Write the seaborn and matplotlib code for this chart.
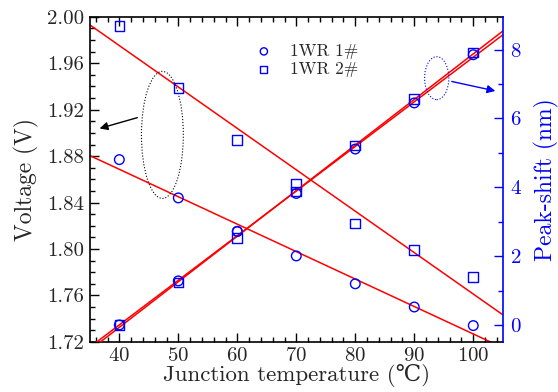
import numpy as np
import pandas as pd
import seaborn as sns
import matplotlib.pyplot as plt
from matplotlib.patches import Ellipse
from matplotlib.ticker import MultipleLocator, FormatStrFormatter

# measured data
temps = [40, 50, 60, 70, 80, 90, 100]
voltage_1 = [1.877, 1.844, 1.815, 1.794, 1.770, 1.750, 1.734]
voltage_2 = [1.992, 1.9385, 1.894, 1.856, 1.822, 1.799, 1.776]
shift_1 = [0.0, 1.28, 2.72, 3.82, 5.11, 6.45, 7.85]
shift_2 = [0.0, 1.23, 2.53, 3.88, 5.21, 6.56, 7.91]
labels = ['1WR 1#', '1WR 2#']

df = pd.DataFrame({'T': temps, 'V1': voltage_1, 'V2': voltage_2,
                   'S1': shift_1, 'S2': shift_2})

sns.set_theme(style='ticks')
plt.rcParams['font.family'] = ['cmr10', 'DejaVu Serif', 'DejaVu Sans']
plt.rcParams['mathtext.fontset'] = 'cm'
plt.rcParams['axes.formatter.use_mathtext'] = True

fig = plt.figure(figsize=(5.58, 3.92), dpi=100)
ax = fig.add_axes([0.161, 0.128, 0.740, 0.829])
ax2 = ax.twinx()

blue = '#0000ff'
line_kws = dict(color='red', lw=1.1)
mk = dict(facecolors='none', linewidth=1.0, s=48, zorder=5)

ax.set_xlim(35, 105)
ax2.set_xlim(35, 105)

# voltage fits and points
sns.regplot(data=df, x='T', y='V1', ax=ax, scatter=False, ci=None,
            truncate=False, line_kws=line_kws)
sns.regplot(data=df, x='T', y='V2', ax=ax, scatter=False, ci=None,
            truncate=False, line_kws=line_kws)
sns.scatterplot(data=df, x='T', y='V1', ax=ax, marker='o', edgecolor=blue,
                label=labels[0], **mk)
sns.scatterplot(data=df, x='T', y='V2', ax=ax, marker='s', edgecolor=blue,
                label=labels[1], **mk)

# peak-shift fits and points
sns.regplot(data=df, x='T', y='S1', ax=ax2, scatter=False, ci=None,
            truncate=False, line_kws=line_kws)
sns.regplot(data=df, x='T', y='S2', ax=ax2, scatter=False, ci=None,
            truncate=False, line_kws=line_kws)
sns.scatterplot(data=df, x='T', y='S1', ax=ax2, marker='o', edgecolor=blue, **mk)
sns.scatterplot(data=df, x='T', y='S2', ax=ax2, marker='s', edgecolor=blue, **mk)
ax.set_xlim(35, 105)
ax2.set_xlim(35, 105)
ax.set_ylim(1.72, 2.00)
ax2.set_ylim(-0.49, 8.95)

# ticks
ax.xaxis.set_major_locator(MultipleLocator(10))
ax.xaxis.set_minor_locator(MultipleLocator(2))
ax.yaxis.set_major_locator(MultipleLocator(0.04))
ax.yaxis.set_minor_locator(MultipleLocator(0.01))
ax.yaxis.set_major_formatter(FormatStrFormatter('%.2f'))
ax2.yaxis.set_major_locator(MultipleLocator(2))
ax2.yaxis.set_minor_locator(MultipleLocator(1))

ax.tick_params(which='both', direction='in', top=True, right=False,
               labelsize=15, color='black', width=1.0, pad=4)
ax.tick_params(which='major', length=6.5)
ax.tick_params(which='minor', length=3.5)
ax2.tick_params(which='both', direction='in', colors=blue, labelsize=15,
                width=1.0, pad=5)
ax2.tick_params(which='major', length=6.5)
ax2.tick_params(which='minor', length=3.5)

for s in ax.spines.values():
    s.set_color('black')
    s.set_linewidth(1.2)
ax.spines['right'].set_visible(False)
for name, s in ax2.spines.items():
    s.set_visible(name == 'right')
ax2.spines['right'].set_color(blue)
ax2.spines['right'].set_linewidth(1.2)

ax.set_xlabel('Junction temperature (℃)', fontsize=16.5, labelpad=-1)
ax.set_ylabel('Voltage (V)', fontsize=17, labelpad=6)
ax2.set_ylabel('Peak-shift (nm)', fontsize=17, color=blue, labelpad=9)

# ellipses and arrows
ax.add_patch(Ellipse((47.3, 1.8983), 7.1, 0.1095, fill=False, ls=':',
                     ec='black', lw=0.8, zorder=4))
ax.annotate('', xy=(36.2, 1.9032), xytext=(43.5, 1.9138),
            arrowprops=dict(arrowstyle='-|>', color='black', lw=1.0,
                            mutation_scale=12))
ax2.add_patch(Ellipse((93.8, 7.17), 4.1, 1.25, fill=False, ls=':',
                      ec=blue, lw=0.8, zorder=4))
ax2.annotate('', xy=(104.2, 6.78), xytext=(95.9, 7.09),
             arrowprops=dict(arrowstyle='-|>', color=blue, lw=1.0,
                             mutation_scale=12))

ax.legend(loc='upper left', bbox_to_anchor=(0.35, 0.955), frameon=False,
          fontsize=12.5, handletextpad=0.5, labelspacing=0.15,
          borderaxespad=0.3, markerscale=0.75)

fig.savefig('out.png', dpi=100)
